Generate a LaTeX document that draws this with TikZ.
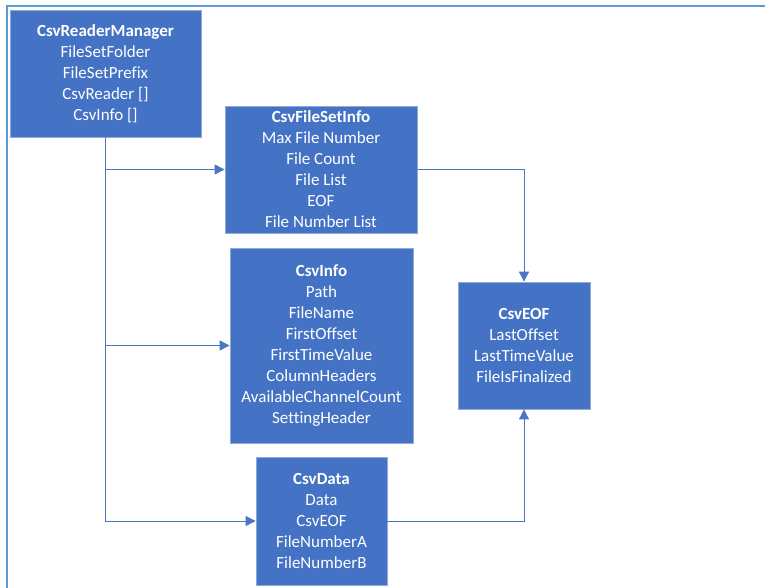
\documentclass[tikz,border=0pt]{standalone}
\usepackage{fontspec}
\setmainfont{Carlito}[Ligatures=NoCommon]
\usetikzlibrary{arrows.meta}
\definecolor{clsfill}{HTML}{4472C4}
\definecolor{clsline}{HTML}{8EA9DB}
\definecolor{linkcol}{HTML}{4A76C6}
\definecolor{framecol}{HTML}{5B9BD5}
\begin{document}
\begin{tikzpicture}[x=1pt,y=-1pt,
    cls/.style={draw=clsline,fill=clsfill,text=white,line width=.8pt,
      align=center,inner sep=0pt,font=\fontsize{17}{21}\selectfont},
    link/.style={draw=linkcol,line width=.9pt,-{Triangle[length=10pt,width=10pt]}}]

     \useasboundingbox (0,0) rectangle (765,588);
     \draw[framecol,line width=2.2pt] (7,588) -- (7,6) -- (765,6);

     % classes
     \node[cls,minimum width=191pt,minimum height=127pt] (mgr) at (105.5,73.5)
       {\textbf{CsvReaderManager}\\FileSetFolder\\FileSetPrefix\\CsvReader []\\CsvInfo []};
     \node[cls,minimum width=192pt,minimum height=127pt] (fsi) at (321,169.5)
       {\textbf{CsvFileSetInfo}\\Max File Number\\File Count\\File List\\EOF\\File Number List};
     \node[cls,minimum width=183pt,minimum height=195pt] (info) at (321.5,345.5)
       {\textbf{CsvInfo}\\Path\\FileName\\FirstOffset\\FirstTimeValue\\ColumnHeaders\\AvailableChannelCount\\SettingHeader};
     \node[cls,minimum width=132pt,minimum height=127pt] (eof) at (524,345.5)
       {\textbf{CsvEOF}\\LastOffset\\LastTimeValue\\FileIsFinalized};
     \node[cls,minimum width=131pt,minimum height=128pt] (data) at (321.5,521)
       {\textbf{CsvData}\\Data\\CsvEOF\\FileNumberA\\FileNumberB};

     % links
     \draw[link] (mgr.south) |- (fsi.west);
     \draw[link] (mgr.south) |- (info.west);
     \draw[link] (mgr.south) |- (data.west);
     \draw[link] (fsi.east) -| (eof.north);
     \draw[link] (data.east) -| (eof.south);
\end{tikzpicture}
\end{document}
